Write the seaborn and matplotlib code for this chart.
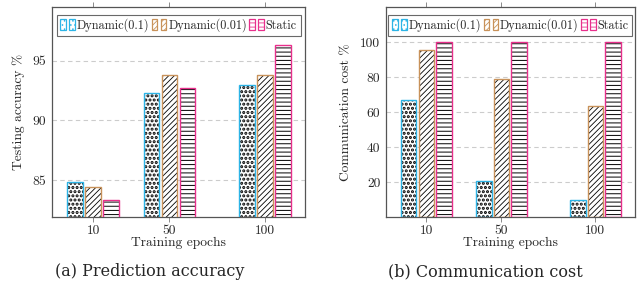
import pandas as pd
import matplotlib.pyplot as plt
import seaborn as sns
from matplotlib.patches import Rectangle, Patch
from matplotlib.legend_handler import HandlerTuple

# data
epochs = [10, 50, 100]
methods = ['Dynamic(0.1)', 'Dynamic(0.01)', 'Static']
accuracy = {
    'Dynamic(0.1)': [84.85, 92.3, 92.95],
    'Dynamic(0.01)': [84.45, 93.8, 93.8],
    'Static': [83.35, 92.75, 96.35],
}
comm_cost = {
    'Dynamic(0.1)': [66.7, 20.8, 10.0],
    'Dynamic(0.01)': [95.5, 79.0, 63.5],
    'Static': [100, 100, 100],
}

edge_colors = {'Dynamic(0.1)': '#2db4e6', 'Dynamic(0.01)': '#c8925a', 'Static': '#e8308c'}
hatches = {'Dynamic(0.1)': '....', 'Dynamic(0.01)': '//////', 'Static': '----'}
hatch_lw = {'Dynamic(0.1)': 1.5, 'Dynamic(0.01)': 0.6, 'Static': 0.7}

sns.set_style('white')
plt.rcParams['font.family'] = ['cmr10', 'DejaVu Serif']
plt.rcParams['axes.formatter.use_mathtext'] = True
plt.rcParams['hatch.linewidth'] = 0.6
plt.rcParams['hatch.color'] = 'black'

FS = 9.7
LEG_FS = 8.8


def long_form(values):
    rows = []
    for m in methods:
        for e, v in zip(epochs, values[m]):
            rows.append({'epoch': e, 'method': m, 'value': v})
    return pd.DataFrame(rows)


def style_hatch(p, m):
    p.set_hatch(hatches[m])
    if hasattr(p, 'set_hatch_linewidth'):
        p.set_hatch_linewidth(hatch_lw[m])


def draw(ax, values, ylabel, ylim, yticks):
    df = long_form(values)
    sns.barplot(data=df, x='epoch', y='value', hue='method', hue_order=methods,
                native_scale=True, width=0.705, gap=0.12, palette=['white'] * 3,
                edgecolor='black', linewidth=0, legend=False, ax=ax, errorbar=None)
    bars = list(ax.patches)
    for i, p in enumerate(bars):
        m = methods[i // len(epochs)]
        style_hatch(p, m)
        p.set_zorder(2)
        ax.add_patch(Rectangle(p.get_xy(), p.get_width(), p.get_height(),
                               facecolor='none', edgecolor=edge_colors[m],
                               linewidth=1.0, zorder=3))
    ax.set_xlim(-11.5, 121)
    ax.set_ylim(*ylim)
    ax.set_xticks(epochs)
    ax.set_xticklabels([str(e) for e in epochs])
    ax.set_yticks(yticks)
    ax.set_yticklabels([str(t) for t in yticks])
    ax.yaxis.grid(True, linestyle=(0, (4, 3)), color='#cccccc', linewidth=0.8, zorder=0)
    ax.set_axisbelow(True)
    ax.tick_params(axis='x', which='both', direction='out', length=3.5, width=0.6,
                   color='#777777', top=True, bottom=True, labelsize=FS, pad=2)
    ax.tick_params(axis='y', length=0, labelsize=FS, pad=4)
    for s in ax.spines.values():
        s.set_color('#555555')
        s.set_linewidth(0.9)
    ax.set_xlabel('Training epochs', fontsize=FS, labelpad=0)
    ax.set_ylabel(ylabel, fontsize=FS, labelpad=6)

    handles = []
    for m in methods:
        p = Patch(facecolor='white', edgecolor=edge_colors[m], linewidth=0.9)
        style_hatch(p, m)
        handles.append((p, p))
    leg = ax.legend(handles, methods, loc='upper center', bbox_to_anchor=(0.5, 0.975), ncol=3,
                    handler_map={tuple: HandlerTuple(ndivide=2, pad=0.3)},
                    handlelength=1.2, handleheight=1.0, handletextpad=0.15, columnspacing=0.2,
                    fontsize=LEG_FS, frameon=True, fancybox=False, borderpad=0.3,
                    borderaxespad=0.2)
    leg.get_frame().set_edgecolor('#444444')
    leg.get_frame().set_linewidth(0.8)


fig = plt.figure(figsize=(6.4, 2.92), dpi=100)
ax1 = fig.add_axes([0.0813, 0.2568, 0.3953, 0.7192])
ax2 = fig.add_axes([0.603, 0.2568, 0.389, 0.7192])

draw(ax1, accuracy, 'Testing accuracy %', (81.9, 99.5), [85, 90, 95])
draw(ax2, comm_cost, 'Communication cost %', (0, 120), [20, 40, 60, 80, 100])

fig.text(0.234, 0.04, '(a) Prediction accuracy', ha='center', va='bottom',
         fontsize=11.5, family='DejaVu Serif')
fig.text(0.758, 0.04, '(b) Communication cost', ha='center', va='bottom',
         fontsize=11.5, family='DejaVu Serif')

fig.savefig('out.png', dpi=100)
